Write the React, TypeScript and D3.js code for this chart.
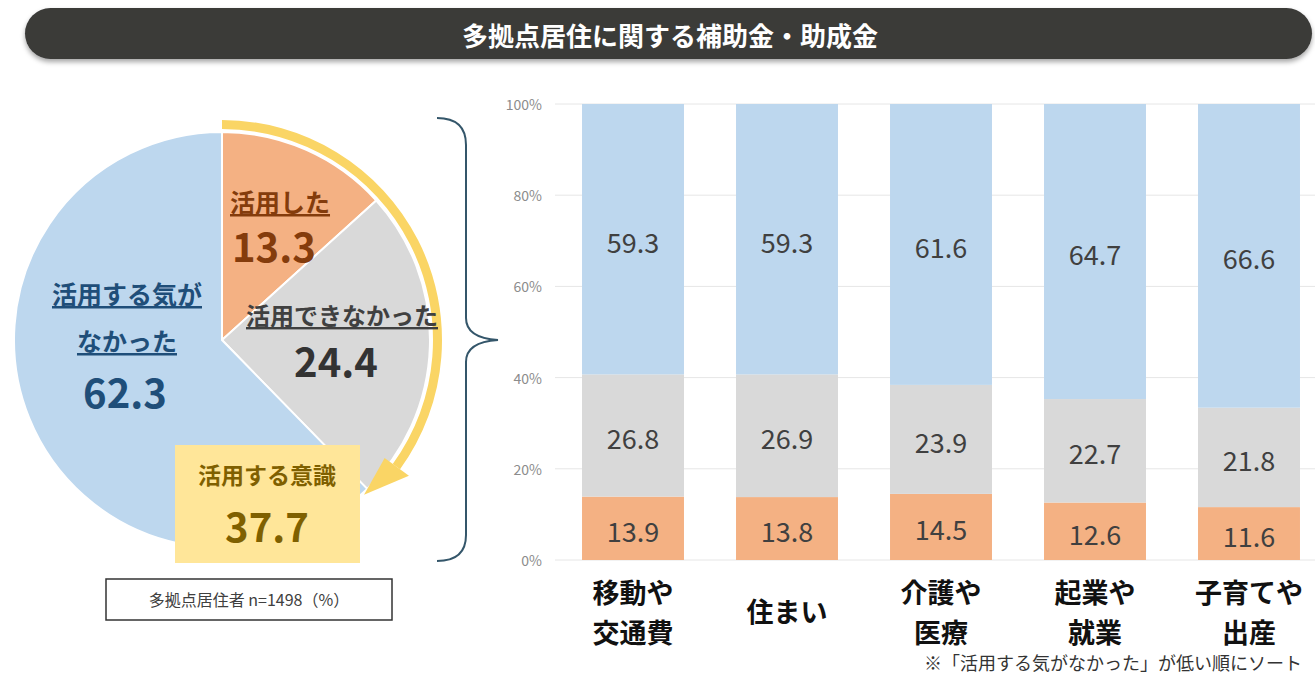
import * as d3 from 'd3';

// bar chart data (%)
const CATEGORIES = [['移動や', '交通費'], ['住まい'], ['介護や', '医療'], ['起業や', '就業'], ['子育てや', '出産']];
const USED = [13.9, 13.8, 14.5, 12.6, 11.6];
const COULD_NOT = [26.8, 26.9, 23.9, 22.7, 21.8];
const NO_INTENT = [59.3, 59.3, 61.6, 64.7, 66.6];
const Y_TICKS = [0, 20, 40, 60, 80, 100];

// pie data (%)
const PIE_LABELS = ['活用した', '活用できなかった', '活用する気がなかった'];
const PIE_VALUES = [13.3, 24.4, 62.3];
const INTENT_LABEL = '活用する意識';
const INTENT_TOTAL = 37.7;

const TITLE = '多拠点居住に関する補助金・助成金';
const SAMPLE_NOTE = '多拠点居住者 n=1498（%）';
const SORT_NOTE = '※「活用する気がなかった」が低い順にソート';

const colors = {
  orange: '#f4b183',
  gray: '#d9d9d9',
  blue: '#bdd7ee',
  yellow: '#fad565',
  yellowBox: '#ffe699',
  brace: '#34566a',
  text: '#404040',
};
const SEG_COLORS = [colors.orange, colors.gray, colors.blue];
const FONT = '"Noto Sans CJK JP", "Noto Sans", sans-serif';

export default function App() {
  // ---- pie ----
  const cx = 222;
  const cy = 340;
  const r = 208;
  const pie = d3.pie<number>().sort(null).value(d => d)(PIE_VALUES);
  const arc = d3.arc<d3.PieArcDatum<number>>().innerRadius(0).outerRadius(r);

  const intentAngle = (2 * Math.PI * INTENT_TOTAL) / 100;
  const ringEnd = intentAngle - 0.17;
  const ring = d3.arc()({ innerRadius: 211, outerRadius: 220, startAngle: 0, endAngle: ringEnd }) || '';
  const pt = (a: number, rad: number) => [cx + rad * Math.sin(a), cy - rad * Math.cos(a)];
  const arrowTip = pt(intentAngle + 0.03, 210);
  const arrowB1 = pt(ringEnd, 201);
  const arrowB2 = pt(ringEnd, 231);

  // ---- bars ----
  const x = d3.scaleBand<number>()
    .domain(CATEGORIES.map((_, i) => i))
    .range([556, 1326])
    .paddingInner(0.338)
    .paddingOuter(0.169);
  const y = d3.scaleLinear().domain([0, 100]).range([560, 104]);

  const stacked = CATEGORIES.map((_, i) => {
    const vals = [USED[i], COULD_NOT[i], NO_INTENT[i]];
    let acc = 0;
    return vals.map((v, k) => {
      const seg = { y0: acc, y1: acc + v, v, k };
      acc += v;
      return seg;
    });
  });

  const brace = 'M437,118 Q466,118 466,145 L466,318 Q466,338 498,340 Q466,342 466,362 L466,535 Q466,561 437,561';

  return (
    <div>
      <style>{'body{margin:0}'}</style>
      <svg width={1315} height={677} style={{ display: 'block', fontFamily: FONT }}>
        <defs>
          <filter id="shadow" x="-5%" y="-30%" width="110%" height="180%">
            <feDropShadow dx="0" dy="3" stdDeviation="2.5" floodColor="#000" floodOpacity="0.35" />
          </filter>
        </defs>
        <rect width={1315} height={677} fill="#fff" />

        {/* title bar */}
        <rect x={25} y={8} width={1287} height={51} rx={25.5} fill="#3a3a38" filter="url(#shadow)" />
        <text x={670} y={34} textAnchor="middle" dominantBaseline="central" fill="#fff" fontSize={26} fontWeight={700}>
          {TITLE}
        </text>

        {/* pie */}
        <g transform={`translate(${cx},${cy})`}>
          {pie.map((d, i) => (
            <path key={i} d={arc(d) || ''} fill={SEG_COLORS[i]} stroke="#fff" strokeWidth={2} />
          ))}
          <path d={ring} fill={colors.yellow} />
        </g>
        <polygon points={[arrowTip, arrowB1, arrowB2].map(p => p.join(',')).join(' ')} fill={colors.yellow} />

        {/* pie labels */}
        <text x={230} y={212} fill="#843c0c" fontSize={25} fontWeight={700} textDecoration="underline">{PIE_LABELS[0]}</text>
        <text x={232} y={262} fill="#843c0c" fontSize={40} fontWeight={700}>{PIE_VALUES[0].toFixed(1)}</text>
        <text x={342} y={325} textAnchor="middle" fill={colors.text} fontSize={24} fontWeight={700} textDecoration="underline">{PIE_LABELS[1]}</text>
        <text x={336} y={377} textAnchor="middle" fill="#333" fontSize={40} fontWeight={700}>{PIE_VALUES[1].toFixed(1)}</text>
        <text x={127} y={304} textAnchor="middle" fill="#1f4e79" fontSize={25} fontWeight={700} textDecoration="underline">{PIE_LABELS[2].slice(0, 6)}</text>
        <text x={127} y={351} textAnchor="middle" fill="#1f4e79" fontSize={25} fontWeight={700} textDecoration="underline">{PIE_LABELS[2].slice(6)}</text>
        <text x={125} y={408} textAnchor="middle" fill="#1f4e79" fontSize={40} fontWeight={700}>{PIE_VALUES[2].toFixed(1)}</text>

        {/* intent box */}
        <rect x={175} y={445} width={185} height={118} fill={colors.yellowBox} />
        <text x={267} y={484} textAnchor="middle" fill="#7f6000" fontSize={23} fontWeight={700}>{INTENT_LABEL}</text>
        <text x={267} y={542} textAnchor="middle" fill="#7f6000" fontSize={40} fontWeight={700}>{INTENT_TOTAL.toFixed(1)}</text>

        {/* sample note */}
        <rect x={106} y={579} width={286} height={41} fill="#fff" stroke="#333" strokeWidth={1.5} />
        <text x={249} y={606} textAnchor="middle" fill={colors.text} fontSize={16}>{SAMPLE_NOTE}</text>

        {/* brace */}
        <path d={brace} fill="none" stroke={colors.brace} strokeWidth={2} />

        {/* bar chart grid + axis */}
        {Y_TICKS.map(t => (
          <g key={t}>
            <line x1={555} x2={1315} y1={y(t)} y2={y(t)} stroke="#e6e6e6" strokeWidth={1} />
            <text x={542} y={y(t)} textAnchor="end" dominantBaseline="central" fill="#8c8c8c" fontSize={14}>
              {`${t}%`}
            </text>
          </g>
        ))}

        {/* bars */}
        {stacked.map((segs, i) => (
          <g key={i}>
            {segs.map(s => (
              <g key={s.k}>
                <rect x={x(i)} y={y(s.y1)} width={x.bandwidth()} height={y(s.y0) - y(s.y1)} fill={SEG_COLORS[s.k]} />
                <text
                  x={(x(i) || 0) + x.bandwidth() / 2}
                  y={(y(s.y0) + y(s.y1)) / 2 + 2}
                  textAnchor="middle"
                  dominantBaseline="central"
                  fill={colors.text}
                  fontSize={27}
                >
                  {s.v.toFixed(1)}
                </text>
              </g>
            ))}
          </g>
        ))}

        {/* category labels */}
        {CATEGORIES.map((lines, i) => {
          const cxBar = (x(i) || 0) + x.bandwidth() / 2;
          const baseY = lines.length === 1 ? 622 : 603;
          return (
            <text key={i} textAnchor="middle" fill="#111" fontSize={27} fontWeight={700}>
              {lines.map((l, j) => (
                <tspan key={j} x={cxBar} y={baseY + j * 40}>{l}</tspan>
              ))}
            </text>
          );
        })}

        {/* sort note */}
        <text x={1302} y={670} textAnchor="end" fill="#333" fontSize={18}>{SORT_NOTE}</text>
      </svg>
    </div>
  );
}
